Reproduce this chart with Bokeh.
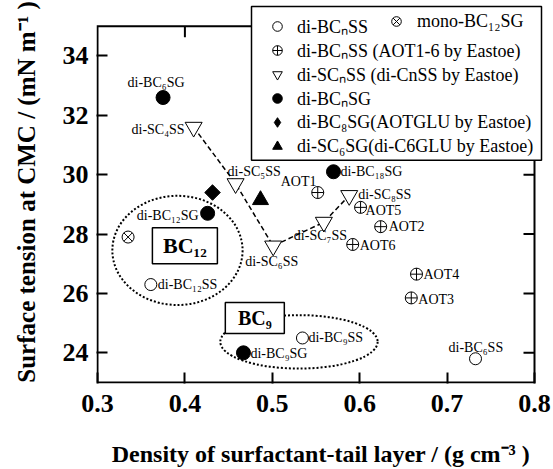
from bokeh.plotting import figure
from bokeh.models import Range1d, FixedTicker, Legend, LegendItem, ColumnDataSource
from bokeh.core.properties import value
from bokeh.embed import file_html
from bokeh.resources import INLINE

# ---------------- data ----------------
x_lim = [0.3, 0.8]
y_lim = [23, 35]
x_ticks = [0.3, 0.4, 0.5, 0.6, 0.7, 0.8]
y_ticks = [24, 26, 28, 30, 32, 34]

# di-BCnSS (open circles)
ss_names = ["di-BC₁₂SS", "di-BC₉SS", "di-BC₆SS"]
ss_x = [0.361, 0.5345, 0.7325]
ss_y = [26.3, 24.5, 23.8]

# mono-BC12SG
mono_x = [0.335]
mono_y = [27.9]

# di-BCnSS (AOT1-6 by Eastoe)
aot_names = ["AOT1", "AOT2", "AOT3", "AOT4", "AOT5", "AOT6"]
aot_x = [0.552, 0.624, 0.659, 0.665, 0.601, 0.592]
aot_y = [29.4, 28.25, 25.85, 26.65, 28.9, 27.65]

# di-SCnSS (di-CnSS by Eastoe)
sc_names = ["di-SC₄SS", "di-SC₅SS", "di-SC₆SS", "di-SC₇SS", "di-SC₈SS"]
sc_x = [0.41, 0.458, 0.501, 0.559, 0.588]
sc_y = [31.6, 29.7, 27.6, 28.4, 29.3]

# di-BCnSG (filled circles)
sg_names = ["di-BC₆SG", "di-BC₉SG", "di-BC₁₂SG", "di-BC₁₈SG"]
sg_x = [0.375, 0.467, 0.426, 0.570]
sg_y = [32.6, 24.0, 28.7, 30.1]

# di-BC8SG (AOTGLU by Eastoe)
glu_x = [0.4316]
glu_y = [29.4]

# di-SC6SG (di-C6GLU by Eastoe)
c6_x = [0.4865]
c6_y = [29.15]

# group annotations (dotted ellipses + boxed labels)
grp_names = ["BC₁₂", "BC₉"]
grp_ell_x = [0.3915, 0.5305]
grp_ell_y = [27.45, 24.37]
grp_ell_w = [0.149, 0.180]
grp_ell_h = [3.68, 1.80]
grp_box_x = [0.400, 0.480]
grp_box_y = [27.61, 25.17]

# ---------------- label placement (screen offsets) ----------------
label_pos = {
    "di-BC₁₂SS": (7, 0, "left"),
    "di-BC₉SS": (6, 0, "left"),
    "di-BC₆SS": (-27, -11, "left"),
    "AOT1": (-37, -11, "left"),
    "AOT2": (8, 0, "left"),
    "AOT3": (7, 2, "left"),
    "AOT4": (7, 0, "left"),
    "AOT5": (5, 3, "left"),
    "AOT6": (7, 1, "left"),
    "di-SC₄SS": (-9, 2, "right"),
    "di-SC₅SS": (-8, -12, "left"),
    "di-SC₆SS": (-28, 16, "left"),
    "di-SC₇SS": (-30, 13, "left"),
    "di-SC₈SS": (9, -1, "left"),
    "di-BC₆SG": (-7, -15, "center"),
    "di-BC₉SG": (7, 1, "left"),
    "di-BC₁₂SG": (-9, 2, "right"),
    "di-BC₁₈SG": (7, 0, "left"),
}

FONT = "Liberation Serif"

# pixel layout: axes box 97..534 (x) and 26..385 (y); frame extended so the
# legend box (which overhangs the axes box) is not clipped
PX_X = 437 / (x_lim[1] - x_lim[0])
PX_Y = 359 / (y_lim[1] - y_lim[0])
x_range = Range1d(x_lim[0] - 1 / PX_X, x_lim[1] + 11 / PX_X)
y_range = Range1d(y_lim[0] - 1 / PX_Y, y_lim[1] + 26 / PX_Y)

p = figure(width=553, height=469, x_range=x_range, y_range=y_range,
           output_backend="svg", toolbar_location=None, title=None,
           min_border_left=96, min_border_right=8,
           min_border_top=0, min_border_bottom=83)
p.grid.visible = False
p.outline_line_color = None
p.background_fill_color = "white"
p.border_fill_color = "white"

xa = p.xaxis[0]
ya = p.yaxis[0]
xa.ticker = FixedTicker(ticks=x_ticks)
ya.ticker = FixedTicker(ticks=y_ticks)
for ax in (xa, ya):
    ax.axis_line_color = None
    ax.major_tick_in = 11
    ax.major_tick_out = 0
    ax.major_tick_line_width = 2
    ax.major_tick_line_color = "black"
    ax.minor_tick_line_color = None
    ax.major_label_text_font = FONT
    ax.major_label_text_font_style = "bold"
    ax.major_label_text_color = "black"
    ax.major_label_text_font_size = "26px"
    ax.axis_label_text_font = FONT
    ax.axis_label_text_font_style = "bold"
    ax.axis_label_text_color = "black"
xa.major_label_standoff = 11
ya.major_label_standoff = 8
xa.axis_label = "Density of surfactant-tail layer / (g cm⁻³ )"
ya.axis_label = "Surface tension at CMC / (mN m⁻¹ )"
xa.axis_label_text_font_size = "24px"
ya.axis_label_text_font_size = "25px"
xa.axis_label_standoff = 26
ya.axis_label_standoff = 20

# axes box
p.line(x=[x_lim[0], x_lim[0], x_lim[1], x_lim[1], x_lim[0]],
       y=[y_lim[0], y_lim[1], y_lim[1], y_lim[0], y_lim[0]],
       line_color="black", line_width=2, line_join="miter")
# inward ticks on top and right edges
tx = x_ticks[1:-1]
p.segment(x0=tx, y0=[y_lim[1]] * len(tx), x1=tx, y1=[y_lim[1] - 11 / PX_Y] * len(tx),
          line_color="black", line_width=2)
p.segment(x0=[x_lim[1]] * len(y_ticks), y0=y_ticks,
          x1=[x_lim[1] - 11 / PX_X] * len(y_ticks), y1=y_ticks,
          line_color="black", line_width=2)

# legend frame (overhangs the axes box, covering part of it)
p.quad(left=[x_lim[0] + (251 - 97) / PX_X], right=[x_lim[0] + (541 - 97) / PX_X],
       top=[y_lim[1] + (26 - 6) / PX_Y], bottom=[y_lim[1] - (161 - 26) / PX_Y],
       fill_color="white", line_color="black", line_width=1.5)

# group ellipses
p.ellipse(x=grp_ell_x, y=grp_ell_y, width=grp_ell_w, height=grp_ell_h,
          fill_color=None, line_color="black", line_dash="2 2", line_width=2)

# dashed connecting line for di-SCnSS
p.line(sc_x, sc_y, line_color="black", line_dash="5 3", line_width=1.5)

r_ss = p.scatter(ss_x, ss_y, marker="circle", size=12, fill_color="white",
                 line_color="black", line_width=1)
r_mono = p.scatter(mono_x, mono_y, marker="circle_x", size=12, fill_color="white",
                   line_color="black", line_width=1)
r_aot = p.scatter(aot_x, aot_y, marker="circle_cross", size=12, fill_color="white",
                  line_color="black", line_width=1)
r_sc = p.scatter(sc_x, sc_y, marker="inverted_triangle", size=17, fill_color="white",
                 line_color="black", line_width=1)
r_sg = p.scatter(sg_x, sg_y, marker="circle", size=14, fill_color="black",
                 line_color="black")
r_glu = p.scatter(glu_x, glu_y, marker="diamond", size=11,
                  fill_color="black", line_color="black")
p.scatter(glu_x, glu_y, marker="square", angle=0.785398, size=11,
          fill_color="black", line_color="black")
r_c6 = p.scatter(c6_x, c6_y, marker="triangle", size=16, fill_color="black",
                 line_color="black")

# group boxes with labels
p.rect(x=grp_box_x, y=grp_box_y, width=[65, 59], height=[36, 31],
       width_units="screen", height_units="screen",
       fill_color="white", line_color="black", line_width=1.5)
p.text(x=grp_box_x, y=grp_box_y, text=grp_names, text_align="center",
       text_baseline="middle", text_font=value(FONT), text_font_style="bold",
       text_font_size=["22px", "20px"], text_color="black")

# point labels
lx, ly, lt, ldx, ldy, lal = [], [], [], [], [], []
for names, xs, ys in ((ss_names, ss_x, ss_y), (aot_names, aot_x, aot_y),
                      (sc_names, sc_x, sc_y), (sg_names, sg_x, sg_y)):
    for n, xv, yv in zip(names, xs, ys):
        dx, dy, al = label_pos[n]
        lx.append(xv); ly.append(yv); lt.append(n)
        ldx.append(dx); ldy.append(dy); lal.append(al)
src = ColumnDataSource(dict(x=lx, y=ly, text=lt, dx=ldx, dy=ldy, al=lal))
p.text(x="x", y="y", text="text", x_offset="dx", y_offset="dy", text_align="al",
       text_baseline="middle", text_font=value(FONT), text_font_size="14px",
       text_color="black", source=src)

# legend entries (frame drawn above by the quad)
leg_b = Legend(items=[
    LegendItem(label="di-BCₙSS", renderers=[r_ss]),
    LegendItem(label="di-BCₙSS (AOT1-6 by Eastoe)", renderers=[r_aot]),
    LegendItem(label="di-SCₙSS (di-CnSS by Eastoe)", renderers=[r_sc]),
    LegendItem(label="di-BCₙSG", renderers=[r_sg]),
    LegendItem(label="di-BC₈SG(AOTGLU by Eastoe)", renderers=[r_glu]),
    LegendItem(label="di-SC₆SG(di-C6GLU by Eastoe)", renderers=[r_c6]),
], location=(163, 225))
leg_a = Legend(items=[LegendItem(label="mono-BC₁₂SG", renderers=[r_mono])],
               location=(288, 350))
for lg in (leg_b, leg_a):
    lg.label_text_font = FONT
    lg.label_text_font_size = "18px"
    lg.label_text_color = "black"
    lg.glyph_height = 24
    lg.label_height = 24
    lg.spacing = 0
    lg.border_line_color = None
    lg.background_fill_alpha = 0
leg_b.glyph_width = 36
leg_b.label_standoff = 2
leg_b.padding = 5
leg_a.glyph_width = 24
leg_a.label_standoff = 9
leg_a.padding = 0
p.add_layout(leg_b)
p.add_layout(leg_a)

open("out.html", "w").write(file_html(p, INLINE))
